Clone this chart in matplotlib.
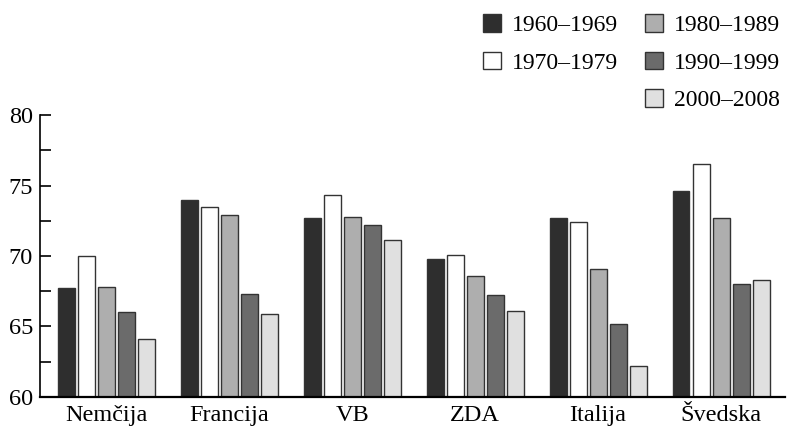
import matplotlib
matplotlib.use("Agg")
import matplotlib.pyplot as plt
import numpy as np
from matplotlib.patches import Rectangle
from matplotlib.ticker import MultipleLocator

categories = ["Nemčija", "Francija", "VB", "ZDA", "Italija", "Švedska"]
periods = ["1960–1969", "1970–1979", "1980–1989", "1990–1999", "2000–2008"]
v1960 = [67.7, 74.0, 72.7, 69.8, 72.7, 74.6]
v1970 = [70.0, 73.5, 74.3, 70.1, 72.4, 76.5]
v1980 = [67.8, 72.9, 72.8, 68.6, 69.1, 72.7]
v1990 = [66.0, 67.3, 72.2, 67.2, 65.2, 68.0]
v2000 = [64.1, 65.9, 71.1, 66.1, 62.2, 68.3]
series = [v1960, v1970, v1980, v1990, v2000]
colors = ["#2e2e2e", "#ffffff", "#aeaeae", "#6b6b6b", "#e0e0e0"]

plt.rcParams['font.family'] = ['Liberation Serif', 'DejaVu Serif']

fig = plt.figure(figsize=(7.9, 4.28), dpi=100)
ax = fig.add_axes([40/790, 1-397/428, 745/790, (397-115)/428])

x = np.arange(len(categories))
pitch = 0.163
width = 0.138
handles = []
for i, (vals, c) in enumerate(zip(series, colors)):
    b = ax.bar(x + (i - 2) * pitch, vals, width=width, bottom=0, color=c,
               edgecolor="#333333", linewidth=1.0, label=periods[i], zorder=2)
    handles.append(b)

ax.set_ylim(60, 80)
ax.set_xlim(-0.54, 5.52)
ax.yaxis.set_major_locator(MultipleLocator(5))
ax.yaxis.set_minor_locator(MultipleLocator(2.5))
ax.tick_params(axis='y', which='both', direction='in', length=8, width=1.2,
               labelsize=17.5, pad=5)
ax.tick_params(axis='x', length=0, labelsize=17.5, pad=6)
ax.set_xticks(x)
ax.set_xticklabels(categories)
for s in ['top', 'right']:
    ax.spines[s].set_visible(False)
ax.spines['left'].set_linewidth(1.2)
ax.spines['bottom'].set_linewidth(1.6)

blank = Rectangle((0, 0), 1, 1, fill=False, edgecolor='none', visible=False)
leg_handles = [handles[0], handles[1], blank, handles[2], handles[3], handles[4]]
leg_labels = [periods[0], periods[1], "", periods[2], periods[3], periods[4]]
fig.legend(leg_handles, leg_labels, ncol=2, loc='upper right',
           bbox_to_anchor=(1.005, 1.0), frameon=False, fontsize=17,
           handlelength=0.76, handleheight=0.76, handletextpad=0.45,
           columnspacing=1.15, labelspacing=0.66, borderaxespad=0.2)

fig.savefig("out.png", dpi=100)
